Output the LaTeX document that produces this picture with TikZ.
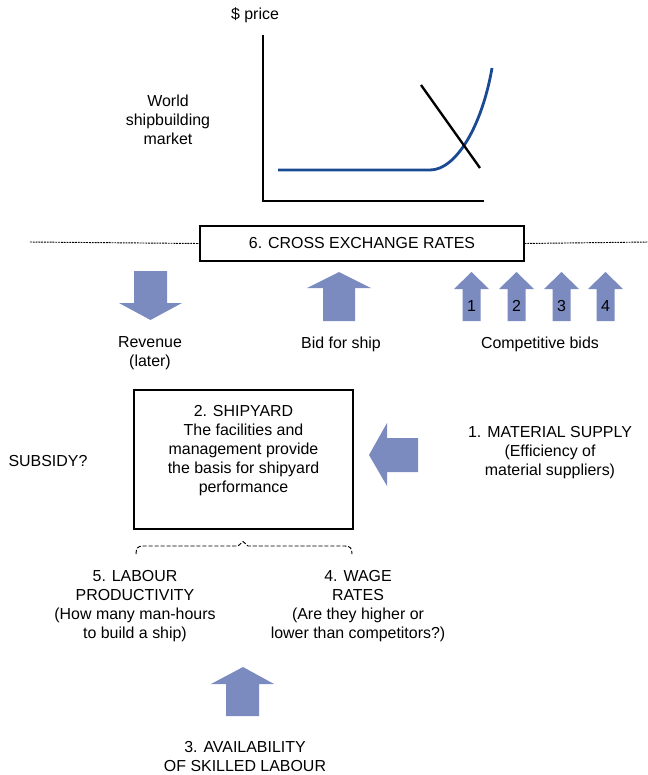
\documentclass[tikz,border=0pt]{standalone}
\usepackage{fontspec}
\setmainfont{Liberation Sans}
\usetikzlibrary{positioning}
\definecolor{cblock}{HTML}{7B8BC0}
\definecolor{ccurve}{HTML}{1A4A92}
\tikzset{
  every picture/.style={font=\fontsize{13.6}{16.2}\selectfont},
  txt/.style={align=center, inner sep=0pt},
  frame/.style={draw, line width=0.9pt, inner sep=0pt},
  blk/.style={fill=cblock},
  axis/.style={line width=0.9pt},
  divider/.style={line width=0.8pt, dash pattern=on 1.6pt off 0.8pt},
  bracket/.style={line width=0.8pt, dash pattern=on 3.5pt off 1.6pt},
}

\begin{document}
\begin{tikzpicture}[x=0.03cm, y=-0.03cm]
  \useasboundingbox (0,0) rectangle (648,775);
  % market graph
  \node[txt] (price) at (255,15) {\$ price};
  \node[txt] (market) at (168,120) {World\\shipbuilding\\market};
  \coordinate (origin) at (263,201);
  \draw[axis] (263,35) -- (origin) -- (484,201);
  \draw[ccurve, line width=2.4pt] (278,170) -- (430,170) .. controls (456,170) and (482,126) .. (492,68);
  \draw[line width=2pt] (421,85) -- (480,168);
  % exchange rates
  \node[frame, minimum width=9.72cm, minimum height=1.05cm] (xrate) at (362,243.5) {6. CROSS EXCHANGE RATES};
  \draw[divider] (30,242) -- (xrate.west);
  \draw[divider] (xrate.east) -- (648,242);
  % arrows under the rates
  \fill[blk] (134,271) -- (167,271) -- (167,303) -- (182,303) -- (150.5,320) -- (119,303) -- (134,303) -- cycle;
  \fill[blk] (323,321) -- (355,321) -- (355,288) -- (371,288) -- (339,272) -- (307,288) -- (323,288) -- cycle;
  \foreach \n/\x in {1/471.5,2/516.5,3/561.5,4/605.5} {
    \fill[blk] (\x-9,321) -- (\x+9,321) -- (\x+9,289) -- (\x+17.5,289) -- (\x,272) -- (\x-17.5,289) -- (\x-9,289) -- cycle;
    \node[txt] (bid\n) at (\x,306) {\n};
  }
  \node[txt] (revenue) at (150,353.5) {Revenue\\(later)};
  \node[txt] (bid) at (341,344) {Bid for ship};
  \node[txt] (compbids) at (540,344) {Competitive bids};
  % shipyard
  \node[frame, minimum width=6.57cm, minimum height=4.17cm] (yard) at (243.5,459.5) {};
  \node[txt] (yardtext) at (243.5,451) {2. SHIPYARD\\The facilities and\\management provide\\the basis for shipyard\\performance};
  \node[txt] (subsidy) at (48,461) {SUBSIDY?};
  \fill[blk] (418,438) -- (418,472) -- (387,472) -- (387,486) -- (369,455) -- (387,423) -- (387,438) -- cycle;
  \node[txt] (material) at (550,453) {1. MATERIAL SUPPLY\\(Efficiency of\\material suppliers)};
  % labour
  \draw[bracket] (136,554) .. controls (136,548) and (138,546) .. (143,546) -- (238,546) -- (243,541.5) -- (248,546) -- (345,546) .. controls (350,546) and (352,548) .. (352,554);
  \node[txt] (labour) at (135,606) {5. LABOUR\\PRODUCTIVITY\\(How many man-hours\\to build a ship)};
  \node[txt] (wage) at (358,606) {4. WAGE\\RATES\\(Are they higher or\\lower than competitors?)};
  \fill[blk] (226,716) -- (259,716) -- (259,684) -- (274,684) -- (243,667) -- (211,684) -- (226,684) -- cycle;
  \node[txt] (skilled) at (245,756.5) {3. AVAILABILITY\\OF SKILLED LABOUR};
\end{tikzpicture}
\end{document}
